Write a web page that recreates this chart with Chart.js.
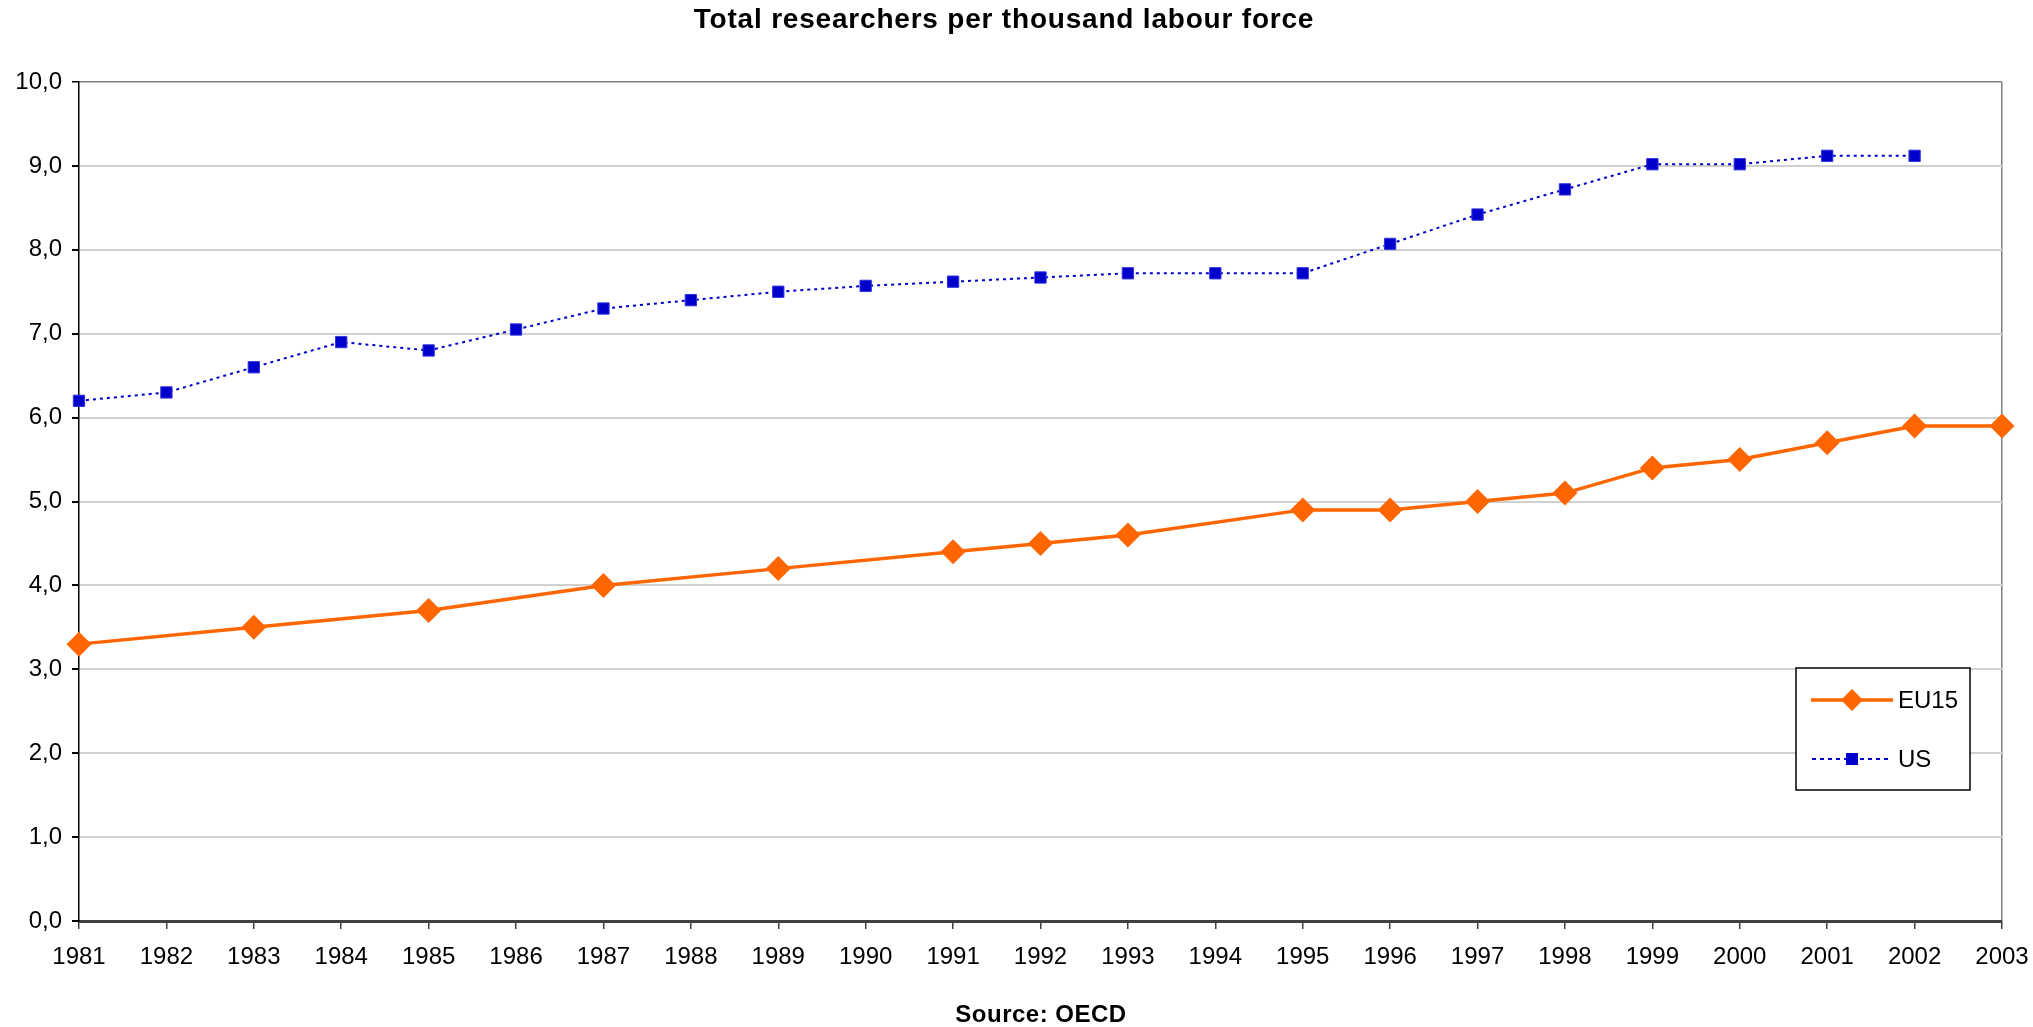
<!DOCTYPE html>
<html>
<head>
<meta charset="utf-8">
<script src="https://cdn.jsdelivr.net/npm/chart.js@4.4.0/dist/chart.umd.min.js"></script>
<style>
  body { margin: 0; background: #fff; }
  #wrap { width: 2033px; height: 1027px; }
</style>
</head>
<body>
<div id="wrap"><canvas id="researchChart" width="2033" height="1027"></canvas></div>
<script>
const years = ['1981', '1982', '1983', '1984', '1985', '1986', '1987', '1988', '1989', '1990', '1991', '1992',
    '1993', '1994', '1995', '1996', '1997', '1998', '1999', '2000', '2001', '2002', '2003'];

// EU15 has no value for some years, line is joined across them
const eu15 = [3.3, null, 3.5, null, 3.7, null, 4.0, null, 4.2, null, 4.4, 4.5,
    4.6, null, 4.9, 4.9, 5.0, 5.1, 5.4, 5.5, 5.7, 5.9, 5.9];
const us = [6.2, 6.3, 6.6, 6.9, 6.8, 7.05, 7.3, 7.4, 7.5, 7.57, 7.62, 7.67,
    7.72, 7.72, 7.72, 8.07, 8.42, 8.72, 9.02, 9.02, 9.12, 9.12, null];

const yTicks = [0, 1, 2, 3, 4, 5, 6, 7, 8, 9, 10];

const ORANGE = '#FF6600';
const BLUE = '#0000CC';
const FONT = 'Liberation Sans, Arial, sans-serif';

// title, source line and the boxed legend
const decorations = {
    id: 'decorations',
    afterDraw(chart) {
        const ctx = chart.ctx;
        ctx.save();
        ctx.fillStyle = '#000';
        ctx.textAlign = 'center';
        ctx.textBaseline = 'middle';
        ctx.font = 'bold 28px ' + FONT;
        ctx.letterSpacing = '0.8px';
        ctx.fillText('Total researchers per thousand labour force', 1004, 20);
        ctx.font = 'bold 24px ' + FONT;
        ctx.letterSpacing = '0.5px';
        ctx.fillText('Source: OECD', 1041, 1015);
        ctx.letterSpacing = '0px';

        // legend box
        ctx.fillStyle = '#fff';
        ctx.fillRect(1796, 668, 174, 122);
        ctx.strokeStyle = '#000';
        ctx.lineWidth = 1.5;
        ctx.strokeRect(1796, 668, 174, 122);

        // EU15 entry
        ctx.strokeStyle = ORANGE;
        ctx.lineWidth = 3.5;
        ctx.beginPath();
        ctx.moveTo(1811, 700);
        ctx.lineTo(1893, 700);
        ctx.stroke();
        ctx.fillStyle = ORANGE;
        ctx.beginPath();
        ctx.moveTo(1852 - 11, 700);
        ctx.lineTo(1852, 700 - 11);
        ctx.lineTo(1852 + 11, 700);
        ctx.lineTo(1852, 700 + 11);
        ctx.closePath();
        ctx.fill();

        // US entry
        ctx.strokeStyle = BLUE;
        ctx.lineWidth = 2;
        ctx.setLineDash([4, 4]);
        ctx.beginPath();
        ctx.moveTo(1812, 759);
        ctx.lineTo(1888, 759);
        ctx.stroke();
        ctx.setLineDash([]);
        ctx.fillStyle = BLUE;
        ctx.fillRect(1852 - 6, 759 - 6, 12, 12);

        ctx.fillStyle = '#000';
        ctx.textAlign = 'left';
        ctx.font = '24px ' + FONT;
        ctx.fillText('EU15', 1898, 701);
        ctx.fillText('US', 1898, 760);
        ctx.restore();
    }
};

new Chart(document.getElementById('researchChart'), {
    type: 'line',
    data: {
        labels: years,
        datasets: [{
            label: 'EU15',
            data: eu15,
            borderColor: ORANGE,
            backgroundColor: ORANGE,
            borderWidth: 3.5,
            pointStyle: 'rectRot',
            pointRadius: 12.5,
            pointBorderWidth: 0,
            spanGaps: true,
            tension: 0,
            clip: false
        }, {
            label: 'US',
            data: us,
            borderColor: BLUE,
            backgroundColor: BLUE,
            borderWidth: 2,
            borderDash: [3, 4],
            pointStyle: 'rect',
            pointRadius: 8,
            pointBorderColor: '#3333DD',
            pointBorderWidth: 1,
            spanGaps: false,
            tension: 0,
            clip: false
        }]
    },
    options: {
        responsive: false,
        animation: false,
        layout: {
            padding: { top: 82, right: 31, bottom: 0, left: 0 }
        },
        plugins: {
            legend: { display: false },
            tooltip: { enabled: false },
            title: { display: false }
        },
        scales: {
            x: {
                offset: false,
                afterFit(scale) {
                    scale.height = 106;
                    scale.paddingLeft = 0;
                    scale.paddingRight = 0;
                },
                border: { color: '#404040', width: 3 },
                grid: {
                    color: (c) => c.index === years.length - 1 ? '#808080' : 'rgba(0,0,0,0)',
                    lineWidth: 1.5,
                    tickColor: '#404040',
                    tickLength: 8
                },
                ticks: {
                    color: '#000',
                    font: { family: FONT, size: 24 },
                    maxRotation: 0,
                    autoSkip: false,
                    padding: 14
                }
            },
            y: {
                min: 0,
                max: 10,
                afterFit(scale) { scale.width = 79; },
                afterBuildTicks(scale) { scale.ticks = yTicks.map(v => ({ value: v })); },
                border: { color: '#000', width: 1.5 },
                grid: {
                    color: (c) => c.tick && c.tick.value === 10 ? '#808080' : '#D0D0D0',
                    lineWidth: (c) => c.tick && c.tick.value === 10 ? 1.5 : 2,
                    tickColor: '#000',
                    tickLength: 7
                },
                ticks: {
                    color: '#000',
                    font: { family: FONT, size: 24 },
                    padding: 10,
                    callback: (v) => Number(v).toFixed(1).replace('.', ',')
                }
            }
        }
    },
    plugins: [decorations]
});
</script>
</body>
</html>
